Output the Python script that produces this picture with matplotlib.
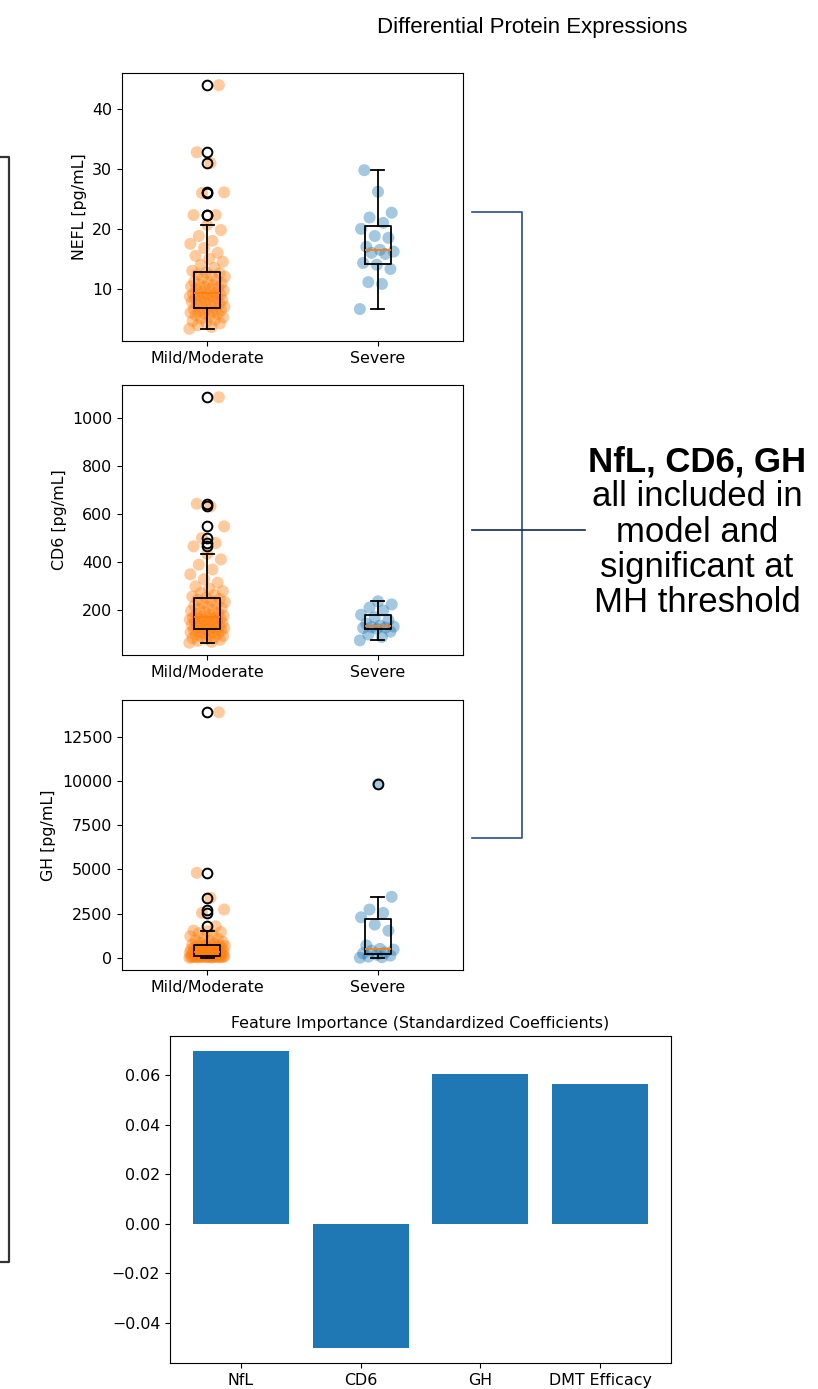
import numpy as np
import matplotlib
matplotlib.use("Agg")
import matplotlib.pyplot as plt
from matplotlib.lines import Line2D
from matplotlib.ticker import MultipleLocator

# ---------------- data ----------------
groups = ["Mild/Moderate", "Severe"]

nefl_mild = [3.3, 3.6, 3.9, 4.2, 4.4, 4.6, 4.8, 5.0, 5.2, 5.4, 5.6, 5.8, 5.9, 6.0, 6.1, 6.2, 6.4, 6.5, 6.6, 6.7,
             6.9, 7.0, 7.2, 7.3, 7.5, 7.6, 7.8, 7.9, 8.0, 8.1, 8.3, 8.4, 8.5, 8.6, 8.7, 8.8, 8.9, 9.0, 9.1, 9.15,
             9.3, 9.5, 9.7, 9.9, 10.0, 10.2, 10.3, 10.4, 10.5, 10.7, 10.9, 11.0, 11.2, 11.5, 11.8, 12.0, 12.2, 12.4, 12.6, 12.7,
             13.0, 13.5, 14.0, 14.5, 15.0, 15.5, 16.0, 16.8, 17.5, 18.0, 18.8, 19.8, 20.7,
             22.3, 22.3, 26.0, 26.1, 31.0, 32.8, 44.0]
nefl_severe = [6.6, 10.8, 11.1, 13.3, 14.0, 14.3, 15.8, 16.0, 16.2, 16.5, 17.0, 18.5, 18.8, 20.0, 21.0, 21.9, 22.7, 26.2, 29.8]

cd6_mild = [66, 70, 74, 78, 82, 85, 88, 91, 94, 97, 100, 103, 106, 109, 112, 115, 117, 119, 121, 123,
            125, 127, 129, 132, 134, 137, 140, 143, 146, 149, 152, 155, 158, 160, 162, 164, 166, 168, 169, 170,
            172, 175, 178, 182, 186, 190, 194, 198, 202, 206, 210, 215, 220, 225, 230, 235, 240, 244, 248, 252,
            258, 265, 272, 280, 290, 300, 315, 330, 350, 370, 390, 412, 435,
            466, 480, 501, 549, 632, 643, 1085]
cd6_severe = [76, 90, 100, 112, 124, 127, 129, 131, 133, 137, 145, 160, 172, 182, 200, 212, 225, 238]

gh_mild = [0, 5, 10, 15, 20, 25, 30, 35, 40, 45, 48, 52, 55, 58, 61, 64, 67, 70, 72, 73,
           76, 85, 95, 105, 120, 135, 150, 165, 180, 200, 220, 240, 260, 280, 300, 315, 325, 335, 342, 348,
           355, 370, 385, 400, 420, 440, 460, 480, 500, 520, 545, 570, 595, 620, 645, 665, 685, 700, 712, 720,
           760, 800, 850, 900, 950, 1000, 1080, 1150, 1220, 1300, 1380, 1450, 1500, 1534,
           1780, 2540, 2730, 3390, 4810, 13900]
gh_severe = [0, 30, 60, 120, 170, 250, 300, 400, 455, 500, 700, 1530, 1880, 2290, 2540, 2730, 3450, 9830]

ylabels = ["NEFL [pg/mL]", "CD6 [pg/mL]", "GH [pg/mL]"]
ytick_steps = [10, 200, 2500]

features = ["NfL", "CD6", "GH", "DMT Efficacy"]
coefs = [0.0697, -0.0501, 0.0604, 0.0562]

# ---------------- figure ----------------
W, H = 818, 1389
fig = plt.figure(figsize=(W / 100, H / 100), dpi=100)
FS = 11.4
plt.rcParams["font.size"] = FS


def ax_at(l, t, r, b):
    return fig.add_axes([l / W, 1 - b / H, (r - l) / W, (b - t) / H])


def jitter(n, width=0.21):
    return ((np.arange(n) * 0.6180339887) % 1 - 0.5) * width


panels = [(nefl_mild, nefl_severe), (cd6_mild, cd6_severe), (gh_mild, gh_severe)]
boxes = [(122, 73, 463, 341), (122, 385, 463, 655), (122, 700, 463, 970)]

for (mild, sev), rect, lab, step in zip(panels, boxes, ylabels, ytick_steps):
    ax = ax_at(*rect)
    for pos, vals, col in [(1, mild, "#ff7f0e"), (2, sev, "#1f77b4")]:
        vals = np.asarray(vals, float)
        ax.scatter(pos + jitter(len(vals)), vals, s=75, color=col, alpha=0.4,
                   edgecolors="none", zorder=1)
    ax.boxplot([mild, sev], positions=[1, 2], widths=0.15,
               flierprops=dict(marker="o", markersize=7, markerfacecolor="none",
                               markeredgecolor="black", markeredgewidth=1.4),
               boxprops=dict(color="black", linewidth=1.3),
               whiskerprops=dict(color="black", linewidth=1.3),
               capprops=dict(color="black", linewidth=1.3),
               medianprops=dict(color="#ff7f0e", linewidth=1.3),
               zorder=3)
    ax.set_xlim(0.5, 2.5)
    ax.set_xticks([1, 2])
    ax.set_xticklabels(groups, fontsize=FS)
    ax.yaxis.set_major_locator(MultipleLocator(step))
    ax.set_ylabel(lab, fontsize=FS)
    ax.tick_params(labelsize=FS)

# bar chart
axb = ax_at(170, 1036, 671, 1363)
axb.bar(features, coefs, color="#1f77b4")
axb.set_title("Feature Importance (Standardized Coefficients)", fontsize=FS, pad=6)
axb.tick_params(labelsize=FS)

# titles and annotations
fig.text(532 / W, 1 - 28 / H, "Differential Protein Expressions",
         family="Liberation Sans", fontsize=16, ha="center", va="center")

cx = 697 / W
lines_txt = ["NfL, CD6, GH", "all included in", "model and", "significant at", "MH threshold"]
ys = [462, 497, 532, 567, 603]
for i, (t, y) in enumerate(zip(lines_txt, ys)):
    fig.text(cx, 1 - y / H, t, family="Liberation Sans", fontsize=25,
             fontweight="bold" if i == 0 else "normal", ha="center", va="center")


def fline(xs, ys_, **kw):
    fig.add_artist(Line2D([x / W for x in xs], [1 - y / H for y in ys_],
                          transform=fig.transFigure, **kw))


navy = "#2b4c8c"
fline([472, 522, 522, 472], [212, 212, 838, 838], color=navy, lw=1.2)
fline([472, 585], [530, 530], color="#142850", lw=1.2)

# left bracket
fline([0, 9, 9, 0], [157, 157, 1262, 1262], color="#333333", lw=1.6)

fig.savefig("out.png", dpi=100)
